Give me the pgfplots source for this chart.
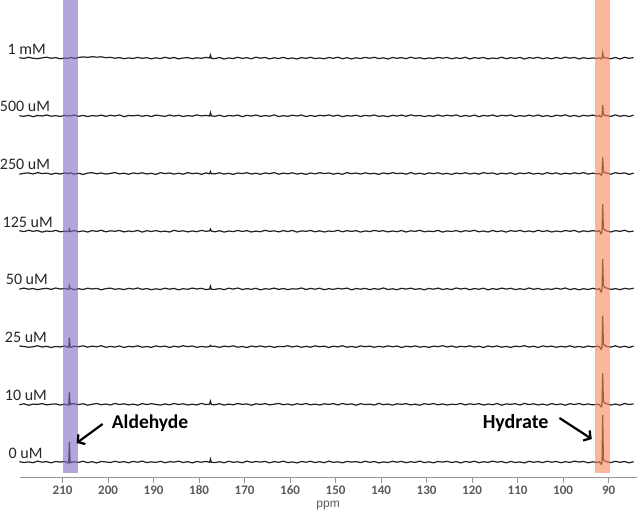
\documentclass[border=0pt]{standalone}
\usepackage{pgfplots}
\pgfplotsset{compat=1.18}
\usepackage{pgfplotstable}
\usepackage{fontspec}
\setmainfont{Carlito}
\newfontfamily\arialfont{Liberation Sans}
\usetikzlibrary{arrows.meta}

\definecolor{trace}{RGB}{38,30,30}
\definecolor{bandpurple}{RGB}{127,107,193}
\definecolor{bandorange}{RGB}{247,135,88}
\definecolor{ticktext}{RGB}{90,90,90}
\definecolor{axisgray}{RGB}{150,150,150}

% ppm, then one column per sample (c0 = 0 uM ... c7 = 1 mM), in px above each baseline
\pgfplotstableread{
x      c0    c1    c2    c3    c4    c5    c6    c7
219.5  0.3  -0.4   0.6  -0.2   0.5  -0.7   0.1   0.4
218.5 -0.5   0.5   0.1   0.8  -0.4   0.2  -0.6  -0.3
217.5  0.1  -0.9  -0.6  -0.3   0.9   0.6   0.5   0.8
216.5 -0.7   0.2  -0.2   0.4  -0.1  -0.5  -0.9  -0.1
215.5  0.9  -0.1   0.9  -0.8   0.6   0.9   0.3  -0.6
214.5 -0.2   0.7  -0.5   0.1  -0.9  -0.1  -0.2   0.2
213.5  0.4  -0.6   0.3   0.6   0.2   0.4   0.8   0.9
212.5 -0.8   0.1  -0.9  -0.5  -0.3  -0.8  -0.4  -0.2
211.5  0.5   0.4   0.2   0.9   0.8   0.3   0.1   0.5
210.5 -0.1  -0.8  -0.4  -0.2  -0.6  -0.6  -0.7  -0.7
209.5  0.6   0.3   0.7   0.5   0.1   0.7   0.6   0.1
208.9 -0.9  -0.7  -0.8  -0.4  -0.5  -0.2  -0.3  -0.4
208.65 -0.5 -0.4  -0.3   0.1  -0.2   0.1   0.2  -0.1
208.5 20.0  12.0   9.0   3.0   2.0   0.6   0.3   0.2
208.35 -0.8 -0.5  -0.4   0.2  -0.3   0.3  -0.1   0.4
208.1 -0.2   0.6  -0.7   0.3  -0.4   0.5  -0.1   0.7
207.5  0.2   0.5   0.4  -0.8   0.7  -0.7   0.9  -0.3
206.5 -0.4  -0.3  -0.1   0.2  -0.5   0.2  -0.5   0.6
205.5  0.8   0.6   0.8  -0.6   0.3  -0.9   0.4   1.2
204.5 -0.6  -0.9  -0.6   0.7  -0.8   0.4  -0.8   0.7
203.5  0.3   0.1   0.5  -0.1   0.6   0.8   0.2   1.4
202.5 -0.9   0.8  -0.2   0.5  -0.2  -0.3  -0.3   0.9
201.5  0.5  -0.4   0.9  -0.9   0.9   0.5   0.7   1.3
200.5  0.1   0.3  -0.7   0.3  -0.6  -0.6  -0.6   0.4
199.5 -0.5  -0.7   0.2   0.8   0.4   0.1   0.5   0.8
198.5  0.7   0.9  -0.5  -0.4  -0.1   0.9  -0.2  -0.1
197.5 -0.3  -0.2   0.6   0.2   0.7  -0.4   0.9   0.5
196.5  0.4   0.5  -0.9  -0.7  -0.7   0.3  -0.9  -0.6
195.5 -0.8  -0.6   0.3   0.6   0.2  -0.8   0.3   0.2
194.5  0.6   0.2  -0.3  -0.2  -0.4   0.6  -0.1  -0.4
193.5 -0.2  -0.9   0.8   0.9   0.8  -0.2   0.6   0.7
192.5  0.9   0.7  -0.6  -0.5  -0.9   0.7  -0.5  -0.2
191.5 -0.6  -0.3   0.1   0.4   0.5  -0.5   0.4   0.4
190.5  0.2   0.6  -0.8  -0.8  -0.3   0.2  -0.8  -0.7
189.5 -0.4  -0.1   0.7   0.1   0.6  -0.9   0.7   0.3
188.5  0.7  -0.8  -0.2  -0.6  -0.5   0.8   0.1  -0.5
187.5 -0.7   0.4   0.5   0.7   0.1  -0.1  -0.6   0.8
186.5  0.3  -0.5  -0.9  -0.3  -0.8   0.5   0.8  -0.3
185.5 -0.1   0.8   0.4   0.5   0.9  -0.6  -0.3   0.6
184.5  0.8  -0.2  -0.4  -0.9  -0.2   0.3   0.5  -0.8
183.5 -0.5   0.5   0.9   0.2   0.4  -0.7  -0.7   0.1
182.5  0.4  -0.7  -0.1  -0.4  -0.7   0.9   0.2   0.5
181.5 -0.9   0.1   0.6   0.8   0.3  -0.2  -0.4  -0.6
180.5  0.5  -0.6  -0.7  -0.1  -0.5   0.4   0.9   0.3
179.5 -0.2   0.9   0.2   0.6   0.8  -0.8  -0.1  -0.2
178.5  0.6  -0.3  -0.5  -0.7  -0.1   0.6   0.4   0.7
177.7 -0.3   0.2   0.1  -0.2   0.3  -0.3  -0.2   0.1
177.5  3.0   3.2   1.2   2.8   2.2   2.0   3.2   3.0
177.3 -0.2  -0.3   0.2  -0.4   0.1  -0.2  -0.1  -0.3
176.5 -0.6  -0.4   0.3  -0.5  -0.6  -0.3  -0.5  -0.4
175.5  0.3   0.6  -0.8   0.4   0.5   0.7   0.6   0.6
174.5 -0.8  -0.8   0.5  -0.8  -0.9  -0.6  -0.8  -0.9
173.5  0.7   0.2  -0.2   0.7   0.2   0.2   0.3   0.2
172.5 -0.3  -0.5   0.8  -0.2  -0.4  -0.9  -0.2  -0.5
171.5  0.2   0.8  -0.6   0.9   0.7   0.5   0.7   0.8
170.5 -0.7  -0.1   0.1  -0.6  -0.3  -0.1  -0.9  -0.3
169.5  0.9   0.4  -0.9   0.3   0.6   0.8   0.5   0.4
168.5 -0.4  -0.9   0.6  -0.4  -0.8  -0.5  -0.3  -0.7
167.5  0.5   0.5  -0.3   0.6   0.1   0.3   0.8   0.9
166.5 -0.1  -0.2   0.7  -0.9  -0.5  -0.8  -0.6  -0.1
165.5  0.6   0.7  -0.5   0.2   0.9   0.6   0.2   0.6
164.5 -0.8  -0.6   0.4  -0.3  -0.2  -0.2  -0.4  -0.8
163.5  0.4   0.1  -0.8   0.8   0.4   0.9   0.9   0.3
162.5 -0.3   0.9   0.2  -0.5  -0.7  -0.7  -0.7  -0.4
161.5  0.8  -0.4  -0.1   0.4   0.6   0.4   0.1   0.7
160.5 -0.6   0.3   0.9  -0.7  -0.4  -0.3  -0.5  -0.6
159.5  0.1  -0.8  -0.4   0.1   0.8   0.7   0.6   0.2
158.5 -0.9   0.6   0.6  -0.2  -0.9  -0.6  -0.2  -0.9
157.5  0.5  -0.3  -0.7   0.9   0.3   0.2   0.8   0.5
156.5 -0.2   0.8   0.3  -0.6  -0.1  -0.9  -0.8  -0.3
155.5  0.7  -0.5  -0.6   0.5   0.7   0.5   0.3   0.8
154.5 -0.5   0.2   0.8  -0.3  -0.6  -0.4  -0.6  -0.5
153.5  0.3  -0.7  -0.2   0.7   0.4   0.8   0.5   0.1
152.5 -0.7   0.5   0.5  -0.8  -0.8  -0.1  -0.1  -0.7
151.5  0.9  -0.1  -0.9   0.2   0.2   0.6   0.9   0.6
150.5 -0.4   0.7   0.4  -0.5  -0.3  -0.7  -0.4  -0.2
149.5  0.2  -0.6  -0.3   0.6   0.9   0.3   0.7   0.9
148.5 -0.8   0.8   0.9  -0.1  -0.6  -0.8  -0.9  -0.6
147.5  0.6  -0.2  -0.6   0.8   0.5   0.9   0.2   0.4
146.5 -0.1   0.4   0.2  -0.9  -0.2  -0.2  -0.3  -0.8
145.5  0.4  -0.9  -0.8   0.4   0.6   0.5   0.6   0.3
144.5 -0.6   0.6   0.7  -0.3  -0.9  -0.6  -0.7  -0.4
143.5  0.8  -0.3  -0.1   0.5   0.3   0.7   0.4   0.7
142.5 -0.3   0.2   0.5  -0.7  -0.4  -0.3  -0.2  -0.1
141.5  0.5  -0.7  -0.7   0.3   0.8   0.2   0.8   0.8
140.5 -0.9   0.9   0.3  -0.4  -0.1  -0.9  -0.6  -0.5
139.5  0.1  -0.4  -0.5   0.9   0.5   0.6   0.1   0.3
138.5 -0.5   0.3   0.8  -0.6  -0.7  -0.4  -0.9  -0.9
137.5  0.7  -0.8  -0.2   0.1   0.2   0.8   0.5   0.6
136.5 -0.2   0.5   0.6  -0.8  -0.5  -0.1  -0.3  -0.2
135.5  0.6  -0.1  -0.9   0.6   0.7   0.4   0.7   0.5
134.5 -0.7   0.7   0.4  -0.2  -0.8  -0.7  -0.5  -0.6
133.5  0.3  -0.6  -0.3   0.7   0.4   0.9   0.9   0.9
132.5 -0.4   0.2   0.7  -0.5  -0.2  -0.5  -0.1  -0.3
131.5  0.9  -0.9  -0.6   0.3   0.9   0.3   0.4   0.4
130.5 -0.6   0.6   0.2  -0.9  -0.6  -0.8  -0.8  -0.8
129.5  0.2  -0.2  -0.8   0.5   0.1   0.6   0.2   0.2
128.5 -0.8   0.8   0.5  -0.3  -0.4  -0.2  -0.6  -0.5
127.5  0.5  -0.5  -0.1   0.8   0.8   0.7   0.8   0.7
126.5 -0.1   0.4   0.9  -0.6  -0.9  -0.6  -0.4  -0.1
125.5  0.7  -0.7  -0.4   0.2   0.3   0.2   0.6   0.6
124.5 -0.5   0.1   0.6  -0.7  -0.3  -0.9  -0.2  -0.7
123.5  0.4  -0.3  -0.7   0.9   0.6   0.5   0.9   0.3
122.5 -0.9   0.9   0.3  -0.1  -0.7  -0.3  -0.7  -0.4
121.5  0.6  -0.6  -0.2   0.6   0.5   0.8   0.3   0.8
120.5 -0.3   0.5   0.8  -0.8  -0.1  -0.5  -0.5  -0.9
119.5  0.8  -0.2  -0.5   0.4   0.9   0.4   0.7   0.5
118.5 -0.7   0.7   0.4  -0.4  -0.6  -0.7  -0.9  -0.2
117.5  0.3  -0.8  -0.9   0.7   0.2   0.9   0.4   0.6
116.5 -0.4   0.3   0.6  -0.9  -0.8  -0.1  -0.3  -0.8
115.5  0.9  -0.4  -0.3   0.3   0.7   0.6   0.8   0.1
114.5 -0.2   0.8   0.7  -0.5  -0.4  -0.8  -0.6  -0.5
113.5  0.5  -0.9  -0.6   0.8   0.4   0.3   0.5   0.9
112.5 -0.8   0.4   0.2  -0.2  -0.9  -0.4  -0.1  -0.6
111.5  0.6  -0.1  -0.8   0.6   0.6   0.7   0.9   0.4
110.5 -0.5   0.6   0.5  -0.7  -0.2  -0.9  -0.8  -0.3
109.5  0.1  -0.7  -0.1   0.2   0.8   0.5   0.2   0.7
108.5 -0.9   0.9   0.9  -0.6  -0.5  -0.2  -0.5  -0.9
107.5  0.7  -0.3  -0.5   0.9   0.3   0.8   0.7   0.5
106.5 -0.3   0.5   0.4  -0.4  -0.7  -0.6  -0.4  -0.2
105.5  0.4  -0.6  -0.9   0.5   0.9   0.2   0.8   0.8
104.5 -0.6   0.2   0.7  -0.8  -0.3  -0.7  -0.7  -0.6
103.5  0.8  -0.8  -0.2   0.1   0.5   0.9   0.3   0.3
102.5 -0.2   0.7   0.5  -0.5  -0.8  -0.3  -0.9  -0.7
101.5  0.5  -0.4  -0.7   0.7   0.2   0.6   0.6   0.6
100.5 -0.7   0.3   0.3  -0.3  -0.6  -0.8  -0.2  -0.4
99.5   0.3  -0.9  -0.4   0.9   0.7   0.4   0.9   0.9
98.5  -0.4   0.6   0.8  -0.7  -0.1  -0.5  -0.6  -0.1
97.5   0.9  -0.2  -0.6   0.4   0.8   0.7   0.4   0.7
96.5  -0.1   0.8   0.2  -0.9  -0.9  -0.2  -0.8  -0.8
95.5   0.6  -0.5  -0.8   0.2   0.4   0.9   0.5   0.4
94.5  -0.8   0.4   0.6  -0.6  -0.4  -0.6  -0.3  -0.5
93.5   0.2  -0.6  -0.3   0.6   0.6   0.3   0.7   0.2
92.5  -0.5   0.1   0.4  -0.4  -0.2  -0.4  -0.4  -0.3
92.0   0.3  -0.4  -0.2   0.2   0.4   0.1   0.3   0.2
91.65 -2.2  -2.5  -2.6  -3.0  -2.6  -1.6  -1.2  -0.8
91.45 -0.6  -0.7  -0.8  -0.9  -0.8  -0.5  -0.4  -0.2
91.3  47.0  31.0  31.0  30.0  27.0  16.0  11.0   5.0
91.15  2.4   2.8   2.7   3.2   2.8   1.9   1.3   0.8
90.8   1.1   1.3   1.2   1.5   1.2   0.8   0.6   0.4
90.5   0.4   0.6   0.2   0.9   0.3   0.5   0.2   0.3
89.5  -0.6  -0.7  -0.5  -0.5  -0.8  -0.7  -0.6  -0.7
88.5   0.7   0.3   0.8   0.3   0.6   0.8   0.9   0.6
87.5  -0.3  -0.9  -0.7  -0.8  -0.2  -0.1  -0.5  -0.9
86.5   0.5   0.8   0.4   0.6   0.9   0.6   0.4   0.8
85.5  -0.8  -0.3  -0.9  -0.2  -0.6  -0.9  -0.8  -0.2
84.5   0.3   0.5   0.6   0.7   0.2   0.4   0.7   0.5
}\spectra

\begin{document}
\begin{tikzpicture}
\begin{axis}[
    width=617pt, height=477pt, scale only axis,
    x dir=reverse,
    xmin=83.85, xmax=219.45,
    ymin=-15, ymax=462,
    axis x line*=bottom,
    axis y line=none,
    xtick={90,100,...,210},
    tick align=outside,
    major tick length=6pt,
    axis line style={axisgray, line width=0.8pt},
    every tick/.style={axisgray, line width=0.8pt},
    /pgf/number format/assume math mode=true,
    typeset ticklabels with strut,
    xticklabel style={font=\bfseries\fontsize{13}{14}\selectfont, text=ticktext, inner sep=1pt},
    xlabel={ppm},
    xlabel style={font=\arialfont\fontsize{12}{13}\selectfont, text=ticktext, inner sep=0pt, yshift=-2pt},
    clip=false,
]

\addplot[trace, line width=1.2pt] table[x=x, y expr=\thisrow{c0}] {\spectra};
\addplot[trace, line width=1.2pt] table[x=x, y expr=\thisrow{c1}+57.7] {\spectra};
\addplot[trace, line width=1.2pt] table[x=x, y expr=\thisrow{c2}+115.4] {\spectra};
\addplot[trace, line width=1.2pt] table[x=x, y expr=\thisrow{c3}+173.1] {\spectra};
\addplot[trace, line width=1.2pt] table[x=x, y expr=\thisrow{c4}+230.8] {\spectra};
\addplot[trace, line width=1.2pt] table[x=x, y expr=\thisrow{c5}+288.5] {\spectra};
\addplot[trace, line width=1.2pt] table[x=x, y expr=\thisrow{c6}+346.2] {\spectra};
\addplot[trace, line width=1.2pt] table[x=x, y expr=\thisrow{c7}+403.9] {\spectra};

% highlight bands
\fill[bandpurple, fill opacity=0.6] (axis cs:210.0,-11) rectangle (axis cs:206.7,462);
\fill[bandorange, fill opacity=0.6] (axis cs:93.1,-11) rectangle (axis cs:89.6,462);

% sample labels
\begin{scope}[every node/.style={anchor=base west, inner sep=0pt, text=black!85, font=\fontsize{16}{18}\selectfont}]
\node at (axis cs:222.1,407.9) {1 mM};
\node at (axis cs:223.8,350.2) {500 uM};
\node at (axis cs:223.8,292.5) {250 uM};
\node at (axis cs:223.2,234.8) {125 uM};
\node at (axis cs:222.5,177.1) {50 uM};
\node at (axis cs:222.7,119.4) {25 uM};
\node at (axis cs:222.7,61.7) {10 uM};
\node at (axis cs:221.9,4) {0 uM};
\end{scope}

% annotations
\node[anchor=west, inner sep=0pt, font=\bfseries\fontsize{19.5}{21}\selectfont] at (axis cs:199.2,38.5) {Aldehyde};
\node[anchor=west, inner sep=0pt, font=\bfseries\fontsize{20}{22}\selectfont] at (axis cs:117.7,38.5) {Hydrate};
\draw[line width=2.2pt, -{Straight Barb[length=5pt,width=12pt]}] (axis cs:201.2,38) -- (axis cs:206.9,19);
\draw[line width=2.2pt, -{Straight Barb[length=5pt,width=12pt]}] (axis cs:100.8,44) -- (axis cs:93.7,23);

\end{axis}
\end{tikzpicture}
\end{document}
